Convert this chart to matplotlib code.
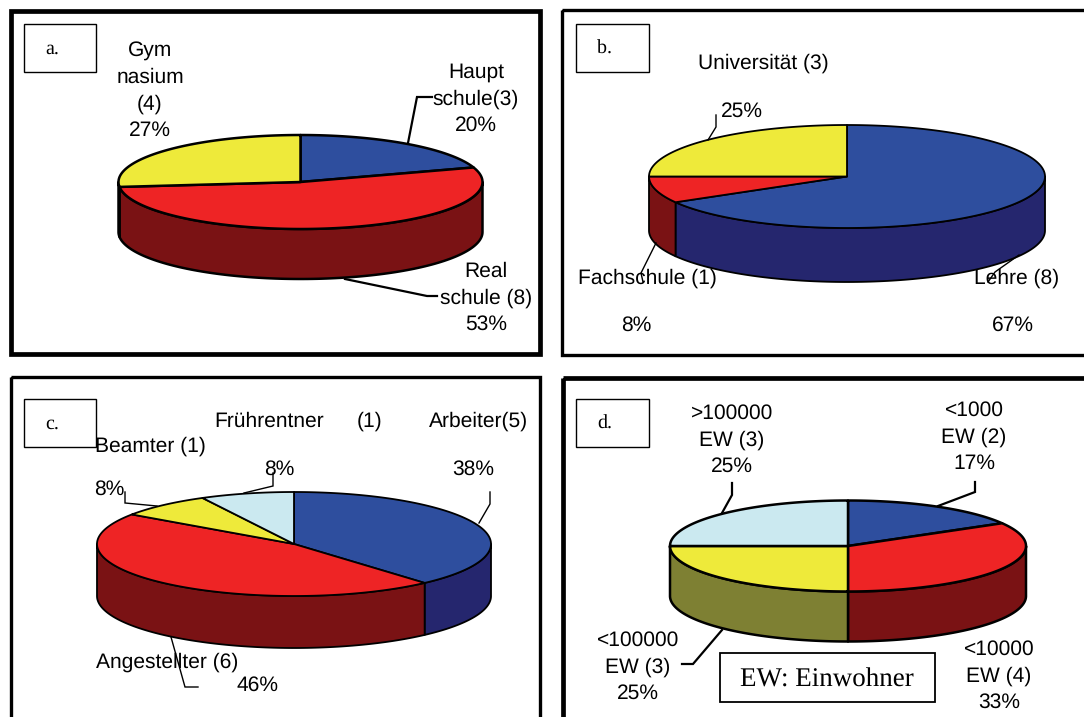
import numpy as np
import matplotlib
matplotlib.use("Agg")
import matplotlib.pyplot as plt
from matplotlib.patches import Polygon, Rectangle

plt.rcParams['font.family'] = ['Liberation Sans', 'DejaVu Sans']
plt.rcParams['text.hinting'] = 'no_hinting'
plt.rcParams['text.hinting_factor'] = 1

# --- data: counts per category, clockwise from 12 o'clock ---
a_counts = [3, 8, 4]
b_counts = [8, 1, 3]
c_counts = [5, 6, 1, 1]
d_counts = [2, 4, 3, 3]

BLUE, RED, YEL, LBL = '#2E4E9E', '#EE2425', '#EEEA3A', '#CBE9F0'
shade = {BLUE: '#25266E', RED: '#7A1214', YEL: '#7E8033', LBL: '#7FA0A8'}

a_colors = [BLUE, RED, YEL]
b_colors = [BLUE, RED, YEL]
c_colors = [BLUE, RED, YEL, LBL]
d_colors = [BLUE, RED, YEL, LBL]

# text: (string, x, y)
a_text = [("Gym\nnasium\n(4)\n27%", 150, 89), ("Haupt\nschule(3)\n20%", 476, 97),
          ("Real\nschule (8)\n53%", 486, 296)]
b_text = [("Universität (3)", 763, 61), ("25%", 742, 109), ("Fachschule (1)", 647, 276),
          ("8%", 636, 323), ("Lehre (8)", 1017, 276), ("67%", 1013, 323)]
c_text = [("Frührentner", 269, 419), ("(1)", 370, 419), ("Arbeiter(5)", 479, 419),
          ("Beamter (1)", 150, 444), ("8%", 109, 487), ("8%", 279, 467), ("38%", 473, 467),
          ("Angestellter (6)", 167, 660), ("46%", 258, 683)]
d_text = [(">100000\nEW (3)\n25%", 732, 438), ("<1000\nEW (2)\n17%", 974, 435),
          ("<100000\nEW (3)\n25%", 638, 665), ("<10000\nEW (4)\n33%", 999, 674)]

a_lead = [[(408, 143), (417, 97), (432, 97)], [(345, 279), (427, 296), (437, 296)]]
b_lead = [[(708, 140), (716, 127), (716, 115)], [(656, 243), (641, 273), (643, 282)],
          [(1019, 255), (995, 272), (988, 282)]]
c_lead = [[(157, 506), (125, 503), (125, 492)], [(244, 493), (273, 486), (273, 473)],
          [(479, 523), (490, 504), (490, 492)], [(171, 637), (185, 687), (198, 687)]]
d_lead = [[(722, 513), (732, 495), (732, 483)], [(938, 506), (975, 492), (975, 482)],
          [(722, 630), (693, 664), (682, 664)]]

fig = plt.figure(figsize=(10.84, 7.17), dpi=100)
ax = fig.add_axes([0, 0, 1, 1])
ax.set_xlim(0, 1084)
ax.set_ylim(717, 0)
ax.axis('off')


def pie3d(counts, colors, cx, cy, rx, ry, depth, lw):
    v = np.asarray(counts, float)
    edges = np.concatenate([[0], np.cumsum(v) / v.sum() * 2 * np.pi])
    pt = lambda t, dy=0: np.column_stack([cx + rx * np.sin(t), cy - ry * np.cos(t) + dy])
    for i, c in enumerate(colors):
        lo, hi = max(edges[i], np.pi / 2), min(edges[i + 1], 3 * np.pi / 2)
        if hi > lo:
            t = np.linspace(lo, hi, 120)
            ax.add_patch(Polygon(np.vstack([pt(t), pt(t[::-1], depth)]), closed=True,
                                 fc=shade[c], ec='black', lw=lw, joinstyle='round', zorder=2))
    for i, c in enumerate(colors):
        t = np.linspace(edges[i], edges[i + 1], 200)
        ax.add_patch(Polygon(np.vstack([[cx, cy], pt(t)]), closed=True,
                             fc=c, ec='black', lw=lw, joinstyle='round', zorder=3))


def frame(x0, y0, x1, y1, lw):
    ax.add_patch(Rectangle((x0, y0), x1 - x0, y1 - y0, fc='none', ec='black', lw=lw, zorder=1))


def tag(x0, y0, x1, y1, s):
    ax.add_patch(Rectangle((x0, y0), x1 - x0, y1 - y0, fc='white', ec='black', lw=1.0, zorder=4))
    ax.text((x0 + x1) / 2 - 8, (y0 + y1) / 2 + 1, s, family='Liberation Serif', fontsize=14.5,
            ha='center', va='center', zorder=5)


def labels(items):
    for s, x, y in items:
        ax.text(x, y + 2, s, fontsize=15.3, ha='center', va='center', linespacing=1.46, zorder=6)


def leaders(items, lw):
    for seg in items:
        xy = np.array(seg)
        ax.plot(xy[:, 0], xy[:, 1], color='black', lw=lw, zorder=5, solid_joinstyle='miter')


frame(10.5, 10.5, 540, 353.5, 3.4)
frame(561.5, 10, 1100, 355, 2.4)
frame(10.5, 377, 539.5, 740, 2.4)
frame(563, 378, 1100, 740, 3.4)

pie3d(a_counts, a_colors, 300.5, 182, 182, 47, 50, 1.8)
pie3d(b_counts, b_colors, 847, 176.5, 198, 51.5, 54, 1.3)
pie3d(c_counts, c_colors, 294, 544, 197, 52, 52, 1.3)
pie3d(d_counts, d_colors, 848, 546, 178, 45.5, 50, 1.8)

tag(24, 24, 96, 72, "a.")
tag(576, 24, 649, 72, "b.")
tag(24, 399, 96, 447, "c.")
tag(576, 399, 649, 447, "d.")

for t in (a_text, b_text, c_text, d_text):
    labels(t)
leaders(a_lead, 1.6)
leaders(b_lead, 1.0)
leaders(c_lead, 1.0)
leaders(d_lead, 1.6)

ax.add_patch(Rectangle((720, 653), 215, 49, fc='white', ec='black', lw=1.3, zorder=4))
ax.text(827, 680, "EW: Einwohner", family='Liberation Serif', fontsize=19.2,
        ha='center', va='center', zorder=5)

fig.savefig("out.png", dpi=100)
